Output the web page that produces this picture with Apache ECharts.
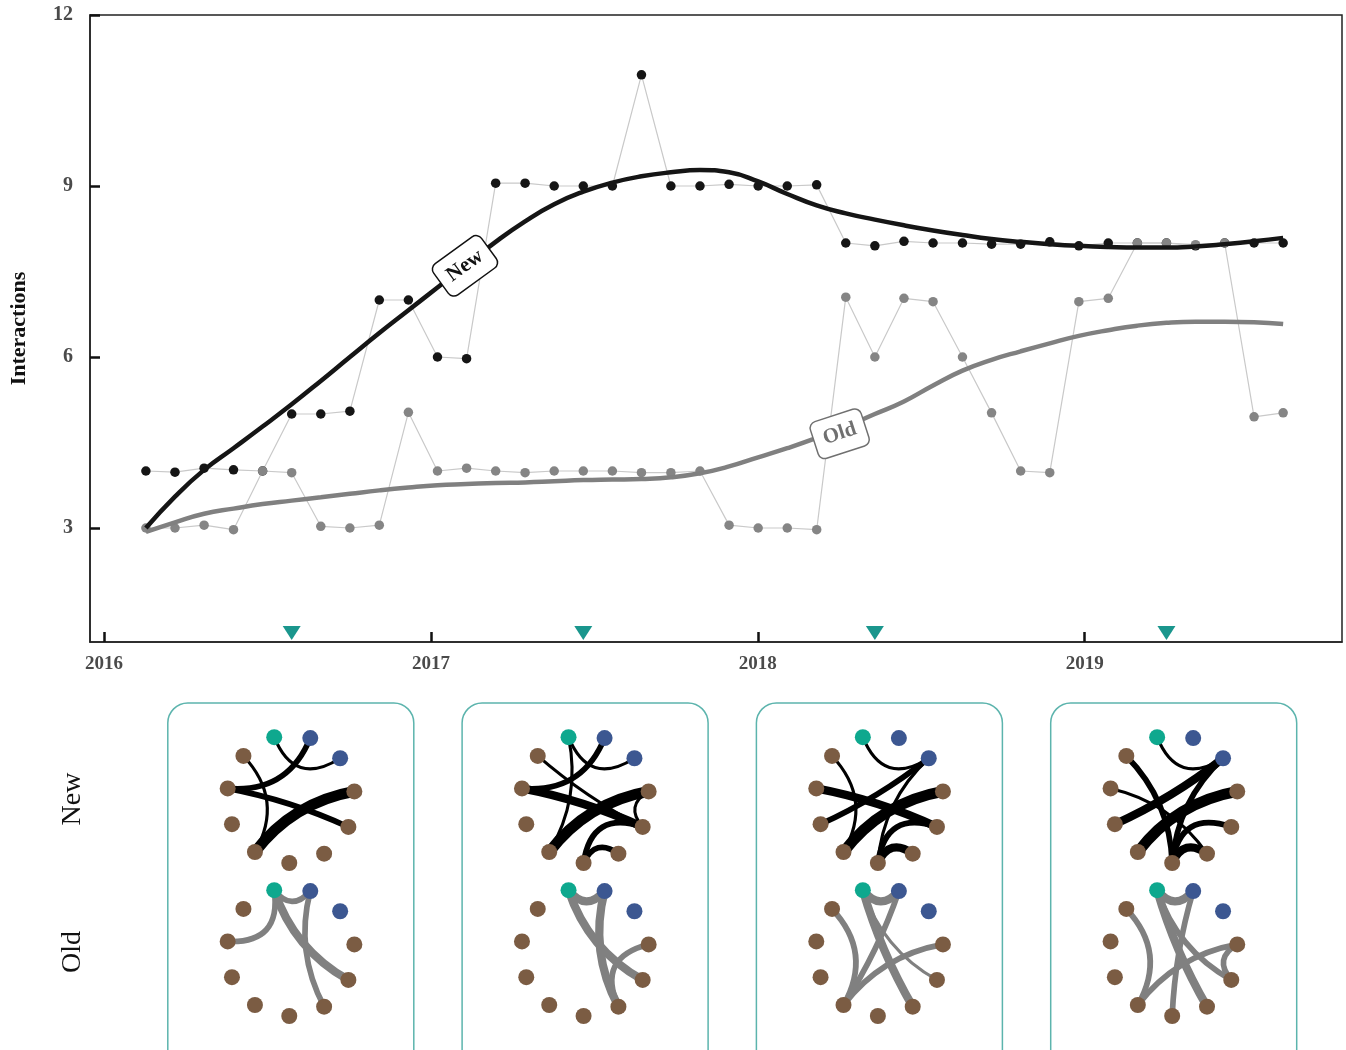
<!DOCTYPE html>
<html><head><meta charset="utf-8">
<script src="https://cdn.jsdelivr.net/npm/echarts@6/dist/echarts.min.js"></script>
<style>html,body{margin:0;padding:0;background:#fff}#c{width:1346px;height:1050px}</style>
</head><body><div id="c"></div>
<script>
// ---------- data ----------
const dates = [2016.128, 2016.217, 2016.306, 2016.396, 2016.485, 2016.574, 2016.663, 2016.752, 2016.842, 2016.931,
  2017.020, 2017.109, 2017.198, 2017.288, 2017.377, 2017.466, 2017.555, 2017.644, 2017.734, 2017.823,
  2017.912, 2018.001, 2018.090, 2018.180, 2018.269, 2018.358, 2018.447, 2018.536, 2018.626, 2018.715,
  2018.804, 2018.893, 2018.982, 2019.072, 2019.161, 2019.250, 2019.339, 2019.428, 2019.518, 2019.607];
const newCounts = [4, 3.98, 4.05, 4.02, 4, 5, 5, 5.05, 7, 7,
  6, 5.97, 9.05, 9.05, 9, 9, 9, 10.95, 9, 9,
  9.03, 9, 9, 9.02, 8, 7.95, 8.03, 8, 8, 7.98,
  7.98, 8.02, 7.95, 8, 8, 8, 7.95, 8, 8, 8];
const oldCounts = [3, 3, 3.05, 2.97, 4, 3.97, 3.03, 3, 3.05, 5.03,
  4, 4.05, 4, 3.97, 4, 4, 4, 3.97, 3.97, 4,
  3.05, 3, 3, 2.97, 7.05, 6, 7.03, 6.97, 6, 5.02,
  4, 3.97, 6.97, 7.03, 8, 8, 7.97, 8, 4.95, 5.02];
const newTrend = [3.00, 3.55, 4.02, 4.40, 4.78, 5.17, 5.58, 6.00, 6.42, 6.82,
  7.22, 7.62, 8.02, 8.38, 8.68, 8.90, 9.06, 9.17, 9.24, 9.28,
  9.24, 9.08, 8.86, 8.66, 8.52, 8.41, 8.31, 8.22, 8.14, 8.07,
  8.02, 7.98, 7.95, 7.93, 7.92, 7.92, 7.94, 7.98, 8.03, 8.09];
const oldTrend = [2.93, 3.10, 3.25, 3.34, 3.42, 3.48, 3.54, 3.60, 3.66, 3.71,
  3.75, 3.77, 3.79, 3.80, 3.82, 3.84, 3.85, 3.86, 3.89, 3.96,
  4.08, 4.24, 4.40, 4.58, 4.78, 5.00, 5.22, 5.50, 5.76, 5.95,
  6.10, 6.24, 6.37, 6.47, 6.55, 6.60, 6.62, 6.62, 6.61, 6.58];
const snapshotDates = [2016.574, 2017.466, 2018.358, 2019.250];
const yearTicks = [2016, 2017, 2018, 2019];
const yTicks = [3, 6, 9, 12];
const seriesNames = ['New', 'Old'];
const yAxisTitle = 'Interactions';

// network: nodes in circular order, edges as [source, target, weight]
const networkNodes = [
  {id: 'ego', group: 'focal'}, {id: 'b1', group: 'blue'}, {id: 'b2', group: 'blue'},
  {id: 'n3', group: 'brown'}, {id: 'n4', group: 'brown'}, {id: 'n5', group: 'brown'},
  {id: 'n6', group: 'brown'}, {id: 'n7', group: 'brown'}, {id: 'n8', group: 'brown'},
  {id: 'n9', group: 'brown'}, {id: 'n10', group: 'brown'}
];
const newNetworks = [
  [[0,2,1],[1,9,2],[9,4,2],[10,7,1],[3,7,4]],
  [[0,2,1],[0,7,1],[1,9,2],[10,4,1],[9,4,3],[3,7,4],[3,4,1],[4,6,2],[5,6,2]],
  [[0,2,1],[10,7,1],[9,4,3],[8,2,2],[3,7,4],[2,6,1],[4,6,2],[5,6,3]],
  [[0,2,1],[10,6,2],[9,5,1],[8,2,3],[3,7,4],[4,6,2],[5,6,3],[2,6,2]]
];
const oldNetworks = [
  [[0,1,2],[0,9,2],[0,4,3],[1,5,2]],
  [[0,1,3],[0,4,3],[1,5,3],[3,5,2]],
  [[0,1,3],[0,5,3],[1,7,2],[10,7,2],[3,7,2],[0,4,1]],
  [[0,1,3],[0,5,3],[10,7,2],[1,6,2],[3,7,2],[3,4,2],[0,4,2]]
];

// ---------- styling / layout ----------
const SERIF = '"Liberation Serif", "DejaVu Serif", serif';
const groupColor = {focal: '#0ea88e', blue: '#3c5791', brown: '#7b5c43'};
const panelCx = [290.8, 585.1, 879.4, 1173.7];
const newCy = 799, oldCy = 952, netR = 64;

function edgeWidth(w) { return 0.5 + 2.6 * w; }
function curv(s, t) {
  const n = networkNodes.length;
  const d = ((t - s) % n + n) % n;
  const k = Math.min(d, n - d);
  let c = 0.85 * 0.5 / Math.tan(k * Math.PI / n);
  c = Math.min(c, 0.6);
  return d <= n / 2 ? -c : c;
}

const polar = [], angleAxis = [], radiusAxis = [], netSeries = [];
function addNet(cx, cy, edges, color) {
  const k = polar.length;
  polar.push({center: [cx, cy], radius: netR});
  angleAxis.push({polarIndex: k, type: 'value', min: 0, max: networkNodes.length, startAngle: 105, clockwise: true, show: false});
  radiusAxis.push({polarIndex: k, type: 'value', min: 0, max: 1, show: false});
  netSeries.push({
    type: 'graph', coordinateSystem: 'polar', polarIndex: k, silent: true,
    symbol: 'circle', symbolSize: 16, z: 5,
    data: networkNodes.map((n, i) => ({name: n.id, value: [1, i], itemStyle: {color: groupColor[n.group]}})),
    links: edges.map(([s, t, w]) => ({source: s, target: t, lineStyle: {width: edgeWidth(w), curveness: curv(s, t)}})),
    lineStyle: {color: color, opacity: 1},
    label: {show: false}, emphasis: {disabled: true}
  });
}
panelCx.forEach((cx, i) => {
  addNet(cx, newCy, newNetworks[i], '#000');
  addNet(cx, oldCy, oldNetworks[i], '#808080');
});

const graphics = [];
panelCx.forEach(cx => {
  graphics.push({type: 'rect', shape: {x: cx - 123, y: 703, width: 246, height: 380, r: 20},
    style: {fill: 'none', stroke: '#5cb4ad', lineWidth: 1.5}, z: 1});
});
graphics.push({type: 'text', x: 73, y: newCy, rotation: Math.PI / 2,
  style: {text: seriesNames[0], font: '28px ' + SERIF, fill: '#111', textAlign: 'center', textVerticalAlign: 'middle'}});
graphics.push({type: 'text', x: 73, y: oldCy, rotation: Math.PI / 2,
  style: {text: seriesNames[1], font: '28px ' + SERIF, fill: '#111', textAlign: 'center', textVerticalAlign: 'middle'}});

function pairs(ys) { return dates.map((d, i) => [d, ys[i]]); }
function trendData(ys, labelIdx, text, color, rot, off) {
  return dates.map((d, i) => i === labelIdx ? {
    value: [d, ys[i]], symbolSize: 1,
    label: {show: true, position: 'inside', formatter: text, rotate: rot, offset: off,
      fontFamily: SERIF, fontSize: 21, fontWeight: 'bold', color: color,
      backgroundColor: '#fff', borderColor: color, borderWidth: 1.5, borderRadius: 6, padding: [8, 9]}
  } : [d, ys[i]]);
}

const chart = echarts.init(document.getElementById('c'), null, {renderer: 'canvas'});
chart.setOption({
  animation: false,
  backgroundColor: '#fff',
  grid: {left: 87, right: 4, top: 15, bottom: 408, show: true, borderColor: '#222', borderWidth: 1.5, backgroundColor: 'transparent'},
  xAxis: {
    type: 'value', min: 2015.957, max: 2019.787,
    axisLine: {show: true, lineStyle: {color: '#222', width: 1.5}},
    axisTick: {show: true, inside: true, length: 10, customValues: yearTicks, lineStyle: {color: '#111', width: 2.5}},
    axisLabel: {customValues: yearTicks, formatter: v => String(Math.round(v)), fontFamily: SERIF, fontWeight: 'bold', fontSize: 19, color: '#4a4a4a', margin: 13},
    splitLine: {show: false}
  },
  yAxis: {
    type: 'value', min: 1, max: 12,
    name: yAxisTitle, nameLocation: 'middle', nameGap: 60, nameRotate: 90,
    nameTextStyle: {fontFamily: SERIF, fontWeight: 'bold', fontSize: 22, color: '#111'},
    axisLine: {show: true, lineStyle: {color: '#222', width: 1.5}},
    axisTick: {show: true, inside: true, length: 10, customValues: yTicks, lineStyle: {color: '#111', width: 2.5}},
    axisLabel: {customValues: yTicks, fontFamily: SERIF, fontWeight: 'bold', fontSize: 20, color: '#4a4a4a', margin: 17},
    splitLine: {show: false}
  },
  polar, angleAxis, radiusAxis,
  graphic: graphics,
  series: [
    {type: 'line', data: pairs(newCounts), showSymbol: false, silent: true, z: 1,
      lineStyle: {color: '#c9c9c9', width: 1.2}},
    {type: 'line', data: pairs(oldCounts), showSymbol: false, silent: true, z: 1,
      lineStyle: {color: '#c9c9c9', width: 1.2}},
    {type: 'scatter', data: pairs(newCounts), symbolSize: 9.5, silent: true, z: 2,
      itemStyle: {color: '#151515', opacity: 1}},
    {type: 'scatter', data: pairs(oldCounts), symbolSize: 9.5, silent: true, z: 2,
      itemStyle: {color: '#858585', opacity: 1}},
    {type: 'line', name: seriesNames[1], data: trendData(oldTrend, 24, seriesNames[1], '#707070', 18, [-8, 5]), smooth: 0.5,
      symbol: 'circle', symbolSize: 0, showSymbol: true, silent: true, z: 4,
      itemStyle: {color: '#808080'}, lineStyle: {color: '#808080', width: 4.5}},
    {type: 'line', name: seriesNames[0], data: trendData(newTrend, 11, seriesNames[0], '#111', 36, [-2, 0]), smooth: 0.5,
      symbol: 'circle', symbolSize: 0, showSymbol: true, silent: true, z: 4,
      itemStyle: {color: '#111'}, lineStyle: {color: '#151515', width: 4.5}},
    {type: 'scatter', data: snapshotDates.map(d => [d, 1]), symbol: 'triangle', symbolRotate: 180,
      symbolSize: [18, 14], symbolOffset: [0, -9], clip: false, silent: true, z: 6,
      itemStyle: {color: '#1a968d', opacity: 1}},
    ...netSeries
  ]
});
</script></body></html>
